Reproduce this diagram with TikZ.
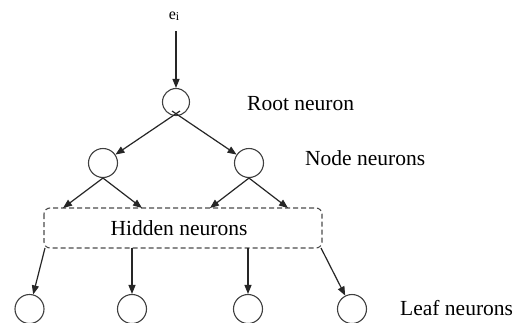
\documentclass[tikz,border=0pt]{standalone}
\usepackage{fontspec}
\setmainfont{Liberation Serif}
\usetikzlibrary{arrows.meta,calc}
\begin{document}
\begin{tikzpicture}[x=1pt,y=-1pt,
  neuron/.style={circle,draw=black!75,line width=1.1pt,minimum size=29pt,inner sep=0pt},
  link/.style={draw=black!85,line width=1.2pt,-{Triangle[length=9pt,width=7pt]}},
  lbl/.style={font=\fontsize{21.5}{24}\selectfont,inner sep=0pt},
  hiddenbox/.style={draw=black!70,dashed,dash pattern=on 5pt off 3pt,line width=1.1pt,rounded corners=6pt}]
  \useasboundingbox (0,0) rectangle (523,322);
  \clip (0,0) rectangle (523,322);
  \fill[white] (0,0) rectangle (523,322);

  % input
  \node[inner sep=0pt,font=\fontsize{16}{18}\selectfont] (ei) at (174,16) {e\raisebox{-0.5pt}{\fontsize{12}{12}\selectfont i}};
  \coordinate (eiout) at (176,31);

  % tree of neurons
  \node[neuron,minimum size=27pt] (root) at (176,102) {};
  \node[neuron] (n1) at (103,163) {};
  \node[neuron] (n2) at (249,163) {};
  \node[neuron] (l1) at (29.5,309) {};
  \node[neuron] (l2) at (132,309) {};
  \node[neuron] (l3) at (248,309) {};
  \node[neuron] (l4) at (352,309) {};

  % hidden layer box
  \path[hiddenbox] (44,208) rectangle (322,248);
  \node[lbl,anchor=base] (hid) at (179,235) {Hidden neurons};
  \coordinate (h1) at (63,208);
  \coordinate (h2) at (142,208);
  \coordinate (h3) at (210,208);
  \coordinate (h4) at (288,208);
  \coordinate (b1) at (45,248);
  \coordinate (b2) at (132,248);
  \coordinate (b3) at (248,248);
  \coordinate (b4) at (321,248);
  \coordinate (rl) at (180,111);
  \coordinate (rr) at (172,111);

  % labels
  \node[lbl,anchor=base west] (lroot) at (247,110) {Root neuron};
  \node[lbl,anchor=base west] (lnode) at (305,165) {Node neurons};
  \node[lbl,anchor=base west] (lleaf) at (400,315) {Leaf neurons};

  % connectors
  \draw[link] (eiout) -- (root);
  \draw[link] (rl) -- (n1);
  \draw[link] (rr) -- (n2);
  \draw[link] (n1.south) -- (h1);
  \draw[link] (n1.south) -- (h2);
  \draw[link] (n2.south) -- (h3);
  \draw[link] (n2.south) -- (h4);
  \draw[link] (b1) -- (l1);
  \draw[link] (b2) -- (l2);
  \draw[link] (b3) -- (l3);
  \draw[link] (b4) -- (l4);
\end{tikzpicture}
\end{document}
